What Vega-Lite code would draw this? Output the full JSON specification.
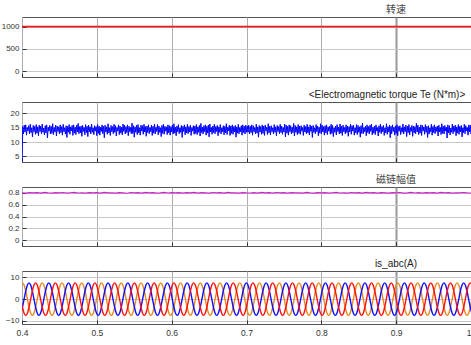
{
"$schema": "https://vega.github.io/schema/vega-lite/v6.json",
"background": "white",
"padding": {"left": 0, "top": 4, "right": 0, "bottom": 0},
"spacing": 11,
"config": {
"font": "Liberation Sans",
"view": {"stroke": "#555", "strokeWidth": 1},
"axis": {"labelFontSize": 8, "labelColor": "#333", "domain": false, "tickColor": "#333", "tickSize": -4, "labelPadding": 7, "gridColor": "#c8c8c8", "gridWidth": 1},
"axisY": {"minExtent": 21, "maxExtent": 21},
"title": {"fontSize": 10, "fontWeight": "normal", "color": "#222", "offset": 2, "frame": "group"}
},
"vconcat": [
{
"width": 450, "height": 60,
"title": {"text": "转速", "anchor": "middle", "dx": 149, "font": "Noto Sans CJK SC", "color": "#444"},
"data": {"values": [{"t": 0.4, "v": 1000}, {"t": 0.6, "v": 1000}, {"t": 0.8, "v": 1000}, {"t": 1.002, "v": 1000}]},
"mark": {"type": "line", "color": "#f01818", "strokeWidth": 1.7, "clip": true},
"encoding": {
"x": {"field": "t", "type": "quantitative", "scale": {"domain": [0.4, 1.0013], "nice": false, "zero": false}, "axis": {"title": null, "values": [0.4, 0.5, 0.6, 0.7, 0.8, 0.9, 1], "labels": false, "gridColor": {"condition": {"test": "abs(datum.value-0.9)<0.001", "value": "#999"}, "value": "#adadad"}, "gridWidth": {"condition": {"test": "abs(datum.value-0.9)<0.001", "value": 2}, "value": 1}}},
"y": {"field": "v", "type": "quantitative", "scale": {"domain": [-135, 1217], "nice": false}, "axis": {"title": null, "values": [0, 500, 1000], "format": "d"}}
}
},
{
"width": 450, "height": 60,
"title": {"text": "<Electromagnetic torque Te (N*m)>", "anchor": "middle", "dx": 140},
"data": {"values": [
{"t":0.4,"v":1},
{"t":0.401,"v":15.4},{"t":0.402,"v":12.8},{"t":0.403,"v":15.9},{"t":0.404,"v":13.5},{"t":0.405,"v":16.0},{"t":0.406,"v":12.4},{"t":0.407,"v":15.1},{"t":0.408,"v":13.9},{"t":0.409,"v":15.7},{"t":0.41,"v":12.9},
{"t":0.411,"v":16.2},{"t":0.412,"v":13.3},{"t":0.413,"v":15.0},{"t":0.414,"v":11.8},{"t":0.415,"v":15.8},{"t":0.416,"v":13.6},{"t":0.417,"v":15.5},{"t":0.418,"v":12.7},{"t":0.419,"v":16.1},{"t":0.42,"v":13.1},
{"t":0.421,"v":15.3},{"t":0.422,"v":12.2},{"t":0.423,"v":15.9},{"t":0.424,"v":13.7},{"t":0.425,"v":15.6},{"t":0.426,"v":12.9},{"t":0.427,"v":16.3},{"t":0.428,"v":13.4},{"t":0.429,"v":14.9},{"t":0.43,"v":12.5},
{"t":0.431,"v":15.7},{"t":0.432,"v":13.2},{"t":0.433,"v":16.0},{"t":0.434,"v":11.4},{"t":0.435,"v":15.2},{"t":0.436,"v":13.8},{"t":0.437,"v":15.8},{"t":0.438,"v":12.8},{"t":0.439,"v":15.5},{"t":0.44,"v":13.0},
{"t":0.441,"v":16.4},{"t":0.442,"v":12.6},{"t":0.443,"v":15.1},{"t":0.444,"v":13.5},{"t":0.445,"v":15.9},{"t":0.446,"v":12.1},{"t":0.447,"v":15.6},{"t":0.448,"v":13.7},{"t":0.449,"v":15.3},{"t":0.45,"v":12.9},
{"t":0.451,"v":16.0},{"t":0.452,"v":13.3},{"t":0.453,"v":15.4},{"t":0.454,"v":12.4},{"t":0.455,"v":16.2},{"t":0.456,"v":13.6},{"t":0.457,"v":15.0},{"t":0.458,"v":12.8},{"t":0.459,"v":15.7},{"t":0.46,"v":11.6},
{"t":0.461,"v":15.5},{"t":0.462,"v":13.4},{"t":0.463,"v":16.1},{"t":0.464,"v":12.7},{"t":0.465,"v":15.3},{"t":0.466,"v":13.9},{"t":0.467,"v":15.8},{"t":0.468,"v":12.3},{"t":0.469,"v":16.0},{"t":0.47,"v":13.1},
{"t":0.471,"v":15.2},{"t":0.472,"v":12.6},{"t":0.473,"v":15.9},{"t":0.474,"v":13.5},{"t":0.475,"v":16.5},{"t":0.476,"v":12.9},{"t":0.477,"v":15.4},{"t":0.478,"v":13.2},{"t":0.479,"v":15.6},{"t":0.48,"v":12.0},
{"t":0.481,"v":15.8},{"t":0.482,"v":13.7},{"t":0.483,"v":15.1},{"t":0.484,"v":12.5},{"t":0.485,"v":16.1},{"t":0.486,"v":13.3},{"t":0.487,"v":15.5},{"t":0.488,"v":11.9},{"t":0.489,"v":15.9},{"t":0.49,"v":13.6},
{"t":0.491,"v":15.3},{"t":0.492,"v":12.8},{"t":0.493,"v":16.3},{"t":0.494,"v":13.4},{"t":0.495,"v":15.0},{"t":0.496,"v":12.6},{"t":0.497,"v":15.7},{"t":0.498,"v":13.8},{"t":0.499,"v":15.4},{"t":0.5,"v":12.2},
{"t":0.501,"v":16.1},{"t":0.502,"v":13.0},{"t":0.503,"v":15.6},{"t":0.504,"v":12.4},{"t":0.505,"v":15.2},{"t":0.506,"v":13.7},{"t":0.507,"v":16.0},{"t":0.508,"v":12.9},{"t":0.509,"v":15.5},{"t":0.51,"v":11.5},
{"t":0.511,"v":15.9},{"t":0.512,"v":13.5},{"t":0.513,"v":15.3},{"t":0.514,"v":12.7},{"t":0.515,"v":16.4},{"t":0.516,"v":13.2},{"t":0.517,"v":15.0},{"t":0.518,"v":12.3},{"t":0.519,"v":15.8},{"t":0.52,"v":13.6},
{"t":0.521,"v":15.4},{"t":0.522,"v":12.9},{"t":0.523,"v":16.2},{"t":0.524,"v":13.4},{"t":0.525,"v":15.7},{"t":0.526,"v":12.1},{"t":0.527,"v":15.1},{"t":0.528,"v":13.8},{"t":0.529,"v":16.0},{"t":0.53,"v":12.6},
{"t":0.531,"v":15.6},{"t":0.532,"v":13.1},{"t":0.533,"v":15.2},{"t":0.534,"v":12.5},{"t":0.535,"v":16.3},{"t":0.536,"v":13.7},{"t":0.537,"v":15.9},{"t":0.538,"v":12.8},{"t":0.539,"v":15.4},{"t":0.54,"v":13.3},
{"t":0.541,"v":16.0},{"t":0.542,"v":12.2},{"t":0.543,"v":15.5},{"t":0.544,"v":13.6},{"t":0.545,"v":15.1},{"t":0.546,"v":12.9},{"t":0.547,"v":16.6},{"t":0.548,"v":13.0},{"t":0.549,"v":15.7},{"t":0.55,"v":11.7},
{"t":0.551,"v":15.3},{"t":0.552,"v":13.4},{"t":0.553,"v":15.8},{"t":0.554,"v":12.6},{"t":0.555,"v":16.1},{"t":0.556,"v":13.2},{"t":0.557,"v":15.0},{"t":0.558,"v":12.4},{"t":0.559,"v":15.9},{"t":0.56,"v":13.8},
{"t":0.561,"v":15.7},{"t":0.562,"v":12.7},{"t":0.563,"v":16.2},{"t":0.564,"v":13.5},{"t":0.565,"v":15.4},{"t":0.566,"v":12.0},{"t":0.567,"v":15.6},{"t":0.568,"v":13.3},{"t":0.569,"v":16.0},{"t":0.57,"v":12.9},
{"t":0.571,"v":15.1},{"t":0.572,"v":13.6},{"t":0.573,"v":15.9},{"t":0.574,"v":12.3},{"t":0.575,"v":15.5},{"t":0.576,"v":13.1},{"t":0.577,"v":16.3},{"t":0.578,"v":12.8},{"t":0.579,"v":15.2},{"t":0.58,"v":13.7},
{"t":0.581,"v":16.1},{"t":0.582,"v":12.5},{"t":0.583,"v":15.6},{"t":0.584,"v":13.4},{"t":0.585,"v":15.0},{"t":0.586,"v":11.9},{"t":0.587,"v":15.8},{"t":0.588,"v":13.0},{"t":0.589,"v":16.2},{"t":0.59,"v":12.7},
{"t":0.591,"v":15.5},{"t":0.592,"v":13.8},{"t":0.593,"v":15.3},{"t":0.594,"v":12.6},{"t":0.595,"v":16.0},{"t":0.596,"v":13.2},{"t":0.597,"v":15.7},{"t":0.598,"v":12.4},{"t":0.599,"v":15.4},{"t":0.6,"v":13.5},
{"t":0.601,"v":15.9},{"t":0.602,"v":12.8},{"t":0.603,"v":16.4},{"t":0.604,"v":13.1},{"t":0.605,"v":15.2},{"t":0.606,"v":12.2},{"t":0.607,"v":15.6},{"t":0.608,"v":13.6},{"t":0.609,"v":16.1},{"t":0.61,"v":12.9},
{"t":0.611,"v":15.0},{"t":0.612,"v":13.4},{"t":0.613,"v":15.8},{"t":0.614,"v":11.6},{"t":0.615,"v":15.5},{"t":0.616,"v":13.7},{"t":0.617,"v":16.0},{"t":0.618,"v":12.5},{"t":0.619,"v":15.3},{"t":0.62,"v":13.2},
{"t":0.621,"v":16.2},{"t":0.622,"v":12.9},{"t":0.623,"v":15.4},{"t":0.624,"v":13.5},{"t":0.625,"v":15.9},{"t":0.626,"v":12.3},{"t":0.627,"v":15.1},{"t":0.628,"v":13.8},{"t":0.629,"v":15.7},{"t":0.63,"v":12.7},
{"t":0.631,"v":15.6},{"t":0.632,"v":13.0},{"t":0.633,"v":16.1},{"t":0.634,"v":12.6},{"t":0.635,"v":15.3},{"t":0.636,"v":13.4},{"t":0.637,"v":15.8},{"t":0.638,"v":12.1},{"t":0.639,"v":16.5},{"t":0.64,"v":13.3},
{"t":0.641,"v":15.2},{"t":0.642,"v":12.8},{"t":0.643,"v":15.7},{"t":0.644,"v":13.6},{"t":0.645,"v":16.0},{"t":0.646,"v":12.4},{"t":0.647,"v":15.5},{"t":0.648,"v":13.1},{"t":0.649,"v":15.9},{"t":0.65,"v":11.8},
{"t":0.651,"v":16.3},{"t":0.652,"v":13.5},{"t":0.653,"v":15.1},{"t":0.654,"v":12.7},{"t":0.655,"v":15.6},{"t":0.656,"v":13.3},{"t":0.657,"v":16.2},{"t":0.658,"v":12.9},{"t":0.659,"v":15.4},{"t":0.66,"v":13.7},
{"t":0.661,"v":15.8},{"t":0.662,"v":12.2},{"t":0.663,"v":15.3},{"t":0.664,"v":13.4},{"t":0.665,"v":16.1},{"t":0.666,"v":12.8},{"t":0.667,"v":15.0},{"t":0.668,"v":13.6},{"t":0.669,"v":15.7},{"t":0.67,"v":12.5},
{"t":0.671,"v":15.5},{"t":0.672,"v":13.2},{"t":0.673,"v":16.4},{"t":0.674,"v":12.6},{"t":0.675,"v":15.2},{"t":0.676,"v":13.9},{"t":0.677,"v":15.9},{"t":0.678,"v":12.3},{"t":0.679,"v":15.6},{"t":0.68,"v":13.0},
{"t":0.681,"v":16.0},{"t":0.682,"v":12.7},{"t":0.683,"v":15.4},{"t":0.684,"v":13.5},{"t":0.685,"v":15.8},{"t":0.686,"v":11.7},{"t":0.687,"v":15.3},{"t":0.688,"v":13.1},{"t":0.689,"v":16.2},{"t":0.69,"v":12.9},
{"t":0.691,"v":15.1},{"t":0.692,"v":13.6},{"t":0.693,"v":15.7},{"t":0.694,"v":12.4},{"t":0.695,"v":16.0},{"t":0.696,"v":13.3},{"t":0.697,"v":15.5},{"t":0.698,"v":12.8},{"t":0.699,"v":15.9},{"t":0.7,"v":13.4},
{"t":0.701,"v":15.6},
{"t":0.702,"v":13.4},{"t":0.703,"v":15.9},{"t":0.704,"v":12.8},{"t":0.705,"v":15.5},{"t":0.706,"v":13.3},{"t":0.707,"v":16.0},{"t":0.708,"v":12.4},{"t":0.709,"v":15.7},{"t":0.71,"v":13.6},{"t":0.711,"v":15.1},
{"t":0.712,"v":12.9},{"t":0.713,"v":16.2},{"t":0.714,"v":13.1},{"t":0.715,"v":15.3},{"t":0.716,"v":11.7},{"t":0.717,"v":15.8},{"t":0.718,"v":13.5},{"t":0.719,"v":15.4},{"t":0.72,"v":12.7},{"t":0.721,"v":16.0},
{"t":0.722,"v":13.0},{"t":0.723,"v":15.6},{"t":0.724,"v":12.3},{"t":0.725,"v":15.9},{"t":0.726,"v":13.9},{"t":0.727,"v":15.2},{"t":0.728,"v":12.6},{"t":0.729,"v":16.4},{"t":0.73,"v":13.2},{"t":0.731,"v":15.5},
{"t":0.732,"v":12.5},{"t":0.733,"v":15.7},{"t":0.734,"v":13.6},{"t":0.735,"v":15.0},{"t":0.736,"v":12.8},{"t":0.737,"v":16.1},{"t":0.738,"v":13.4},{"t":0.739,"v":15.3},{"t":0.74,"v":12.2},{"t":0.741,"v":15.8},
{"t":0.742,"v":13.7},{"t":0.743,"v":15.4},{"t":0.744,"v":12.9},{"t":0.745,"v":16.2},{"t":0.746,"v":13.3},{"t":0.747,"v":15.6},{"t":0.748,"v":12.7},{"t":0.749,"v":15.1},{"t":0.75,"v":13.5},{"t":0.751,"v":16.3},
{"t":0.752,"v":11.8},{"t":0.753,"v":15.9},{"t":0.754,"v":13.1},{"t":0.755,"v":15.5},{"t":0.756,"v":12.4},{"t":0.757,"v":16.0},{"t":0.758,"v":13.6},{"t":0.759,"v":15.7},{"t":0.76,"v":12.8},{"t":0.761,"v":15.2},
{"t":0.762,"v":13.3},{"t":0.763,"v":16.5},{"t":0.764,"v":12.1},{"t":0.765,"v":15.8},{"t":0.766,"v":13.4},{"t":0.767,"v":15.3},{"t":0.768,"v":12.6},{"t":0.769,"v":16.1},{"t":0.77,"v":13.0},{"t":0.771,"v":15.6},
{"t":0.772,"v":12.7},{"t":0.773,"v":15.7},{"t":0.774,"v":13.8},{"t":0.775,"v":15.1},{"t":0.776,"v":12.3},{"t":0.777,"v":15.9},{"t":0.778,"v":13.5},{"t":0.779,"v":15.4},{"t":0.78,"v":12.9},{"t":0.781,"v":16.2},
{"t":0.782,"v":13.2},{"t":0.783,"v":15.3},{"t":0.784,"v":12.5},{"t":0.785,"v":16.0},{"t":0.786,"v":13.7},{"t":0.787,"v":15.5},{"t":0.788,"v":11.6},{"t":0.789,"v":15.8},{"t":0.79,"v":13.4},{"t":0.791,"v":15.0},
{"t":0.792,"v":12.9},{"t":0.793,"v":16.1},{"t":0.794,"v":13.6},{"t":0.795,"v":15.6},{"t":0.796,"v":12.2},{"t":0.797,"v":15.2},{"t":0.798,"v":13.1},{"t":0.799,"v":16.4},{"t":0.8,"v":12.8},{"t":0.801,"v":15.9},
{"t":0.802,"v":13.5},{"t":0.803,"v":15.4},{"t":0.804,"v":12.4},{"t":0.805,"v":15.7},{"t":0.806,"v":13.2},{"t":0.807,"v":16.0},{"t":0.808,"v":12.6},{"t":0.809,"v":15.3},{"t":0.81,"v":13.8},{"t":0.811,"v":15.5},
{"t":0.812,"v":12.7},{"t":0.813,"v":16.2},{"t":0.814,"v":13.0},{"t":0.815,"v":15.8},{"t":0.816,"v":11.9},{"t":0.817,"v":15.0},{"t":0.818,"v":13.4},{"t":0.819,"v":15.6},{"t":0.82,"v":12.5},{"t":0.821,"v":16.1},
{"t":0.822,"v":13.7},{"t":0.823,"v":15.2},{"t":0.824,"v":12.8},{"t":0.825,"v":16.3},{"t":0.826,"v":13.1},{"t":0.827,"v":15.5},{"t":0.828,"v":12.3},{"t":0.829,"v":15.9},{"t":0.83,"v":13.6},{"t":0.831,"v":15.1},
{"t":0.832,"v":12.9},{"t":0.833,"v":16.0},{"t":0.834,"v":13.3},{"t":0.835,"v":15.6},{"t":0.836,"v":12.0},{"t":0.837,"v":15.4},{"t":0.838,"v":13.5},{"t":0.839,"v":16.2},{"t":0.84,"v":12.7},{"t":0.841,"v":15.7},
{"t":0.842,"v":13.8},{"t":0.843,"v":15.9},{"t":0.844,"v":12.4},{"t":0.845,"v":15.0},{"t":0.846,"v":13.2},{"t":0.847,"v":16.1},{"t":0.848,"v":12.6},{"t":0.849,"v":15.8},{"t":0.85,"v":13.4},{"t":0.851,"v":15.3},
{"t":0.852,"v":11.7},{"t":0.853,"v":15.7},{"t":0.854,"v":13.0},{"t":0.855,"v":16.6},{"t":0.856,"v":12.9},{"t":0.857,"v":15.1},{"t":0.858,"v":13.6},{"t":0.859,"v":15.5},{"t":0.86,"v":12.2},{"t":0.861,"v":16.0},
{"t":0.862,"v":13.3},{"t":0.863,"v":15.4},{"t":0.864,"v":12.8},{"t":0.865,"v":15.9},{"t":0.866,"v":13.7},{"t":0.867,"v":16.3},{"t":0.868,"v":12.5},{"t":0.869,"v":15.2},{"t":0.87,"v":13.1},{"t":0.871,"v":15.6},
{"t":0.872,"v":12.6},{"t":0.873,"v":16.0},{"t":0.874,"v":13.8},{"t":0.875,"v":15.1},{"t":0.876,"v":12.1},{"t":0.877,"v":15.7},{"t":0.878,"v":13.4},{"t":0.879,"v":16.2},{"t":0.88,"v":12.9},{"t":0.881,"v":15.4},
{"t":0.882,"v":13.6},{"t":0.883,"v":15.8},{"t":0.884,"v":12.3},{"t":0.885,"v":15.0},{"t":0.886,"v":13.2},{"t":0.887,"v":16.4},{"t":0.888,"v":12.7},{"t":0.889,"v":15.3},{"t":0.89,"v":13.5},{"t":0.891,"v":15.9},
{"t":0.892,"v":11.5},{"t":0.893,"v":15.5},{"t":0.894,"v":12.9},{"t":0.895,"v":16.0},{"t":0.896,"v":13.7},{"t":0.897,"v":15.2},{"t":0.898,"v":12.4},{"t":0.899,"v":15.6},{"t":0.9,"v":13.0},{"t":0.901,"v":16.1},
{"t":0.902,"v":12.2},{"t":0.903,"v":15.4},{"t":0.904,"v":13.8},{"t":0.905,"v":15.7},{"t":0.906,"v":12.6},{"t":0.907,"v":15.0},{"t":0.908,"v":13.4},{"t":0.909,"v":16.3},{"t":0.91,"v":12.8},{"t":0.911,"v":15.3},
{"t":0.912,"v":13.6},{"t":0.913,"v":15.9},{"t":0.914,"v":11.9},{"t":0.915,"v":15.5},{"t":0.916,"v":13.3},{"t":0.917,"v":16.1},{"t":0.918,"v":12.5},{"t":0.919,"v":15.1},{"t":0.92,"v":13.7},{"t":0.921,"v":15.8},
{"t":0.922,"v":12.0},{"t":0.923,"v":15.6},{"t":0.924,"v":13.2},{"t":0.925,"v":15.4},{"t":0.926,"v":12.9},{"t":0.927,"v":16.5},{"t":0.928,"v":13.5},{"t":0.929,"v":15.9},{"t":0.93,"v":12.6},{"t":0.931,"v":15.2},
{"t":0.932,"v":13.1},{"t":0.933,"v":16.0},{"t":0.934,"v":12.3},{"t":0.935,"v":15.8},{"t":0.936,"v":13.9},{"t":0.937,"v":15.3},{"t":0.938,"v":12.7},{"t":0.939,"v":16.1},{"t":0.94,"v":13.4},{"t":0.941,"v":15.5},
{"t":0.942,"v":11.6},{"t":0.943,"v":15.7},{"t":0.944,"v":12.8},{"t":0.945,"v":15.0},{"t":0.946,"v":13.6},{"t":0.947,"v":16.2},{"t":0.948,"v":12.4},{"t":0.949,"v":15.4},{"t":0.95,"v":13.3},{"t":0.951,"v":16.0},
{"t":0.952,"v":12.9},{"t":0.953,"v":15.3},{"t":0.954,"v":13.7},{"t":0.955,"v":15.6},{"t":0.956,"v":12.1},{"t":0.957,"v":15.9},{"t":0.958,"v":13.5},{"t":0.959,"v":15.1},{"t":0.96,"v":12.6},{"t":0.961,"v":16.4},
{"t":0.962,"v":13.0},{"t":0.963,"v":15.5},{"t":0.964,"v":12.8},{"t":0.965,"v":15.8},{"t":0.966,"v":13.8},{"t":0.967,"v":15.2},{"t":0.968,"v":11.4},{"t":0.969,"v":16.0},{"t":0.97,"v":13.2},{"t":0.971,"v":15.7},
{"t":0.972,"v":12.5},{"t":0.973,"v":14.9},{"t":0.974,"v":13.4},{"t":0.975,"v":16.3},{"t":0.976,"v":12.9},{"t":0.977,"v":15.6},{"t":0.978,"v":13.7},{"t":0.979,"v":15.9},{"t":0.98,"v":12.2},{"t":0.981,"v":15.3},
{"t":0.982,"v":13.1},{"t":0.983,"v":16.1},{"t":0.984,"v":12.7},{"t":0.985,"v":15.5},{"t":0.986,"v":13.6},{"t":0.987,"v":15.8},{"t":0.988,"v":11.8},{"t":0.989,"v":15.0},{"t":0.99,"v":13.3},{"t":0.991,"v":16.2},
{"t":0.992,"v":12.9},{"t":0.993,"v":15.7},{"t":0.994,"v":13.9},{"t":0.995,"v":15.1},{"t":0.996,"v":12.4},{"t":0.997,"v":16.0},{"t":0.998,"v":13.5},{"t":0.999,"v":15.9},{"t":1.0,"v":12.8},
{"t":1.001,"v":15.4},{"t":1.002,"v":13.0}
]},
"mark": {"type": "line", "color": "#0000ff", "strokeWidth": 1, "clip": true},
"encoding": {
"x": {"field": "t", "type": "quantitative", "scale": {"domain": [0.4, 1.0013], "nice": false, "zero": false}, "axis": {"title": null, "values": [0.4, 0.5, 0.6, 0.7, 0.8, 0.9, 1], "labels": false, "gridColor": {"condition": {"test": "abs(datum.value-0.9)<0.001", "value": "#999"}, "value": "#adadad"}, "gridWidth": {"condition": {"test": "abs(datum.value-0.9)<0.001", "value": 2}, "value": 1}}},
"y": {"field": "v", "type": "quantitative", "scale": {"domain": [3, 24], "nice": false, "zero": false}, "axis": {"title": null, "values": [5, 10, 15, 20], "format": "d"}}
}
},
{
"width": 450, "height": 59,
"title": {"text": "磁链幅值", "anchor": "middle", "dx": 149, "font": "Noto Sans CJK SC", "color": "#444"},
"data": {"values": [
{"t":0.4,"v":0.802},{"t":0.405,"v":0.797},{"t":0.41,"v":0.806},{"t":0.415,"v":0.799},{"t":0.42,"v":0.804},{"t":0.425,"v":0.795},{"t":0.43,"v":0.808},{"t":0.435,"v":0.8},{"t":0.44,"v":0.796},{"t":0.445,"v":0.805},
{"t":0.45,"v":0.799},{"t":0.455,"v":0.807},{"t":0.46,"v":0.797},{"t":0.465,"v":0.803},{"t":0.47,"v":0.81},{"t":0.475,"v":0.798},{"t":0.48,"v":0.801},{"t":0.485,"v":0.795},{"t":0.49,"v":0.806},{"t":0.495,"v":0.8},
{"t":0.5,"v":0.804},{"t":0.505,"v":0.796},{"t":0.51,"v":0.809},{"t":0.515,"v":0.799},{"t":0.52,"v":0.802},{"t":0.525,"v":0.797},{"t":0.53,"v":0.805},{"t":0.535,"v":0.801},{"t":0.54,"v":0.794},{"t":0.545,"v":0.807},
{"t":0.55,"v":0.8},{"t":0.555,"v":0.803},{"t":0.56,"v":0.797},{"t":0.565,"v":0.808},{"t":0.57,"v":0.799},{"t":0.575,"v":0.805},{"t":0.58,"v":0.796},{"t":0.585,"v":0.802},{"t":0.59,"v":0.81},{"t":0.595,"v":0.798},
{"t":0.6,"v":0.804},{"t":0.605,"v":0.799},{"t":0.61,"v":0.806},{"t":0.615,"v":0.795},{"t":0.62,"v":0.803},{"t":0.625,"v":0.8},{"t":0.63,"v":0.808},{"t":0.635,"v":0.797},{"t":0.64,"v":0.805},{"t":0.645,"v":0.801},
{"t":0.65,"v":0.796},{"t":0.655,"v":0.807},{"t":0.66,"v":0.799},{"t":0.665,"v":0.804},{"t":0.67,"v":0.797},{"t":0.675,"v":0.809},{"t":0.68,"v":0.8},{"t":0.685,"v":0.802},{"t":0.69,"v":0.795},{"t":0.695,"v":0.806},
{"t":0.7,"v":0.801},{"t":0.705,"v":0.798},{"t":0.71,"v":0.805},{"t":0.715,"v":0.797},{"t":0.72,"v":0.81},{"t":0.725,"v":0.799},{"t":0.73,"v":0.803},{"t":0.735,"v":0.796},{"t":0.74,"v":0.807},{"t":0.745,"v":0.8},
{"t":0.75,"v":0.804},{"t":0.755,"v":0.797},{"t":0.76,"v":0.806},{"t":0.765,"v":0.799},{"t":0.77,"v":0.802},{"t":0.775,"v":0.795},{"t":0.78,"v":0.808},{"t":0.785,"v":0.801},{"t":0.79,"v":0.797},{"t":0.795,"v":0.805},
{"t":0.8,"v":0.799},{"t":0.805,"v":0.806},{"t":0.81,"v":0.796},{"t":0.815,"v":0.803},{"t":0.82,"v":0.809},{"t":0.825,"v":0.798},{"t":0.83,"v":0.802},{"t":0.835,"v":0.795},{"t":0.84,"v":0.807},{"t":0.845,"v":0.8},
{"t":0.85,"v":0.805},{"t":0.855,"v":0.797},{"t":0.86,"v":0.808},{"t":0.865,"v":0.799},{"t":0.87,"v":0.803},{"t":0.875,"v":0.796},{"t":0.88,"v":0.806},{"t":0.885,"v":0.801},{"t":0.89,"v":0.795},{"t":0.895,"v":0.804},
{"t":0.9,"v":0.8},{"t":0.905,"v":0.807},{"t":0.91,"v":0.797},{"t":0.915,"v":0.802},{"t":0.92,"v":0.809},{"t":0.925,"v":0.798},{"t":0.93,"v":0.804},{"t":0.935,"v":0.796},{"t":0.94,"v":0.806},{"t":0.945,"v":0.799},
{"t":0.95,"v":0.803},{"t":0.955,"v":0.797},{"t":0.96,"v":0.808},{"t":0.965,"v":0.8},{"t":0.97,"v":0.805},{"t":0.975,"v":0.796},{"t":0.98,"v":0.802},{"t":0.985,"v":0.799},{"t":0.99,"v":0.807},{"t":0.995,"v":0.801},
{"t":1.0,"v":0.798},{"t":1.005,"v":0.804}
]},
"mark": {"type": "line", "color": "#cc22cc", "strokeWidth": 1.2, "clip": true},
"encoding": {
"x": {"field": "t", "type": "quantitative", "scale": {"domain": [0.4, 1.0013], "nice": false, "zero": false}, "axis": {"title": null, "values": [0.4, 0.5, 0.6, 0.7, 0.8, 0.9, 1], "labels": false, "gridColor": {"condition": {"test": "abs(datum.value-0.9)<0.001", "value": "#999"}, "value": "#adadad"}, "gridWidth": {"condition": {"test": "abs(datum.value-0.9)<0.001", "value": 2}, "value": 1}}},
"y": {"field": "v", "type": "quantitative", "scale": {"domain": [-0.1, 0.9], "nice": false, "zero": false}, "axis": {"title": null, "values": [0, 0.2, 0.4, 0.6, 0.8], "format": "~g"}}
}
},
{
"width": 450, "height": 53,
"title": {"text": "is_abc(A)", "anchor": "middle", "dx": 149},
"data": {"values": [
{"t":0.3984,"a":-6.5,"b":0,"c":6.5},{"t":0.4006,"a":-3.75,"b":-3.75,"c":7.5},{"t":0.4028,"a":0,"b":-6.5,"c":6.5},{"t":0.405,"a":3.75,"b":-7.5,"c":3.75},{"t":0.4072,"a":6.5,"b":-6.5,"c":0},{"t":0.4094,"a":7.5,"b":-3.75,"c":-3.75},{"t":0.4116,"a":6.5,"b":0,"c":-6.5},{"t":0.4138,"a":3.75,"b":3.75,"c":-7.5},{"t":0.416,"a":0,"b":6.5,"c":-6.5},{"t":0.4182,"a":-3.75,"b":7.5,"c":-3.75},{"t":0.4204,"a":-6.5,"b":6.5,"c":0},{"t":0.4226,"a":-7.5,"b":3.75,"c":3.75},
{"t":0.4248,"a":-6.5,"b":0,"c":6.5},{"t":0.427,"a":-3.75,"b":-3.75,"c":7.5},{"t":0.4292,"a":0,"b":-6.5,"c":6.5},{"t":0.4314,"a":3.75,"b":-7.5,"c":3.75},{"t":0.4336,"a":6.5,"b":-6.5,"c":0},{"t":0.4358,"a":7.5,"b":-3.75,"c":-3.75},{"t":0.438,"a":6.5,"b":0,"c":-6.5},{"t":0.4402,"a":3.75,"b":3.75,"c":-7.5},{"t":0.4424,"a":0,"b":6.5,"c":-6.5},{"t":0.4446,"a":-3.75,"b":7.5,"c":-3.75},{"t":0.4468,"a":-6.5,"b":6.5,"c":0},{"t":0.449,"a":-7.5,"b":3.75,"c":3.75},
{"t":0.4512,"a":-6.5,"b":0,"c":6.5},{"t":0.4534,"a":-3.75,"b":-3.75,"c":7.5},{"t":0.4556,"a":0,"b":-6.5,"c":6.5},{"t":0.4578,"a":3.75,"b":-7.5,"c":3.75},{"t":0.46,"a":6.5,"b":-6.5,"c":0},{"t":0.4622,"a":7.5,"b":-3.75,"c":-3.75},{"t":0.4644,"a":6.5,"b":0,"c":-6.5},{"t":0.4666,"a":3.75,"b":3.75,"c":-7.5},{"t":0.4688,"a":0,"b":6.5,"c":-6.5},{"t":0.471,"a":-3.75,"b":7.5,"c":-3.75},{"t":0.4732,"a":-6.5,"b":6.5,"c":0},{"t":0.4754,"a":-7.5,"b":3.75,"c":3.75},
{"t":0.4776,"a":-6.5,"b":0,"c":6.5},{"t":0.4798,"a":-3.75,"b":-3.75,"c":7.5},{"t":0.482,"a":0,"b":-6.5,"c":6.5},{"t":0.4842,"a":3.75,"b":-7.5,"c":3.75},{"t":0.4864,"a":6.5,"b":-6.5,"c":0},{"t":0.4886,"a":7.5,"b":-3.75,"c":-3.75},{"t":0.4908,"a":6.5,"b":0,"c":-6.5},{"t":0.493,"a":3.75,"b":3.75,"c":-7.5},{"t":0.4952,"a":0,"b":6.5,"c":-6.5},{"t":0.4974,"a":-3.75,"b":7.5,"c":-3.75},{"t":0.4996,"a":-6.5,"b":6.5,"c":0},{"t":0.5018,"a":-7.5,"b":3.75,"c":3.75},
{"t":0.504,"a":-6.5,"b":0,"c":6.5},{"t":0.5062,"a":-3.75,"b":-3.75,"c":7.5},{"t":0.5084,"a":0,"b":-6.5,"c":6.5},{"t":0.5106,"a":3.75,"b":-7.5,"c":3.75},{"t":0.5128,"a":6.5,"b":-6.5,"c":0},{"t":0.515,"a":7.5,"b":-3.75,"c":-3.75},{"t":0.5172,"a":6.5,"b":0,"c":-6.5},{"t":0.5194,"a":3.75,"b":3.75,"c":-7.5},{"t":0.5216,"a":0,"b":6.5,"c":-6.5},{"t":0.5238,"a":-3.75,"b":7.5,"c":-3.75},{"t":0.526,"a":-6.5,"b":6.5,"c":0},{"t":0.5282,"a":-7.5,"b":3.75,"c":3.75},
{"t":0.5304,"a":-6.5,"b":0,"c":6.5},{"t":0.5326,"a":-3.75,"b":-3.75,"c":7.5},{"t":0.5348,"a":0,"b":-6.5,"c":6.5},{"t":0.537,"a":3.75,"b":-7.5,"c":3.75},{"t":0.5392,"a":6.5,"b":-6.5,"c":0},{"t":0.5414,"a":7.5,"b":-3.75,"c":-3.75},{"t":0.5436,"a":6.5,"b":0,"c":-6.5},{"t":0.5458,"a":3.75,"b":3.75,"c":-7.5},{"t":0.548,"a":0,"b":6.5,"c":-6.5},{"t":0.5502,"a":-3.75,"b":7.5,"c":-3.75},{"t":0.5524,"a":-6.5,"b":6.5,"c":0},{"t":0.5546,"a":-7.5,"b":3.75,"c":3.75},
{"t":0.5568,"a":-6.5,"b":0,"c":6.5},{"t":0.559,"a":-3.75,"b":-3.75,"c":7.5},{"t":0.5612,"a":0,"b":-6.5,"c":6.5},{"t":0.5634,"a":3.75,"b":-7.5,"c":3.75},{"t":0.5656,"a":6.5,"b":-6.5,"c":0},{"t":0.5678,"a":7.5,"b":-3.75,"c":-3.75},{"t":0.57,"a":6.5,"b":0,"c":-6.5},{"t":0.5722,"a":3.75,"b":3.75,"c":-7.5},{"t":0.5744,"a":0,"b":6.5,"c":-6.5},{"t":0.5766,"a":-3.75,"b":7.5,"c":-3.75},{"t":0.5788,"a":-6.5,"b":6.5,"c":0},{"t":0.581,"a":-7.5,"b":3.75,"c":3.75},
{"t":0.5832,"a":-6.5,"b":0,"c":6.5},{"t":0.5854,"a":-3.75,"b":-3.75,"c":7.5},{"t":0.5876,"a":0,"b":-6.5,"c":6.5},{"t":0.5898,"a":3.75,"b":-7.5,"c":3.75},{"t":0.592,"a":6.5,"b":-6.5,"c":0},{"t":0.5942,"a":7.5,"b":-3.75,"c":-3.75},{"t":0.5964,"a":6.5,"b":0,"c":-6.5},{"t":0.5986,"a":3.75,"b":3.75,"c":-7.5},{"t":0.6008,"a":0,"b":6.5,"c":-6.5},{"t":0.603,"a":-3.75,"b":7.5,"c":-3.75},{"t":0.6052,"a":-6.5,"b":6.5,"c":0},{"t":0.6074,"a":-7.5,"b":3.75,"c":3.75},
{"t":0.6096,"a":-6.5,"b":0,"c":6.5},{"t":0.6118,"a":-3.75,"b":-3.75,"c":7.5},{"t":0.614,"a":0,"b":-6.5,"c":6.5},{"t":0.6162,"a":3.75,"b":-7.5,"c":3.75},{"t":0.6184,"a":6.5,"b":-6.5,"c":0},{"t":0.6206,"a":7.5,"b":-3.75,"c":-3.75},{"t":0.6228,"a":6.5,"b":0,"c":-6.5},{"t":0.625,"a":3.75,"b":3.75,"c":-7.5},{"t":0.6272,"a":0,"b":6.5,"c":-6.5},{"t":0.6294,"a":-3.75,"b":7.5,"c":-3.75},{"t":0.6316,"a":-6.5,"b":6.5,"c":0},{"t":0.6338,"a":-7.5,"b":3.75,"c":3.75},
{"t":0.636,"a":-6.5,"b":0,"c":6.5},{"t":0.6382,"a":-3.75,"b":-3.75,"c":7.5},{"t":0.6404,"a":0,"b":-6.5,"c":6.5},{"t":0.6426,"a":3.75,"b":-7.5,"c":3.75},{"t":0.6448,"a":6.5,"b":-6.5,"c":0},{"t":0.647,"a":7.5,"b":-3.75,"c":-3.75},{"t":0.6492,"a":6.5,"b":0,"c":-6.5},{"t":0.6514,"a":3.75,"b":3.75,"c":-7.5},{"t":0.6536,"a":0,"b":6.5,"c":-6.5},{"t":0.6558,"a":-3.75,"b":7.5,"c":-3.75},{"t":0.658,"a":-6.5,"b":6.5,"c":0},{"t":0.6602,"a":-7.5,"b":3.75,"c":3.75},
{"t":0.6624,"a":-6.5,"b":0,"c":6.5},{"t":0.6646,"a":-3.75,"b":-3.75,"c":7.5},{"t":0.6668,"a":0,"b":-6.5,"c":6.5},{"t":0.669,"a":3.75,"b":-7.5,"c":3.75},{"t":0.6712,"a":6.5,"b":-6.5,"c":0},{"t":0.6734,"a":7.5,"b":-3.75,"c":-3.75},{"t":0.6756,"a":6.5,"b":0,"c":-6.5},{"t":0.6778,"a":3.75,"b":3.75,"c":-7.5},{"t":0.68,"a":0,"b":6.5,"c":-6.5},{"t":0.6822,"a":-3.75,"b":7.5,"c":-3.75},{"t":0.6844,"a":-6.5,"b":6.5,"c":0},{"t":0.6866,"a":-7.5,"b":3.75,"c":3.75},
{"t":0.6888,"a":-6.5,"b":0,"c":6.5},{"t":0.691,"a":-3.75,"b":-3.75,"c":7.5},{"t":0.6932,"a":0,"b":-6.5,"c":6.5},{"t":0.6954,"a":3.75,"b":-7.5,"c":3.75},{"t":0.6976,"a":6.5,"b":-6.5,"c":0},{"t":0.6998,"a":7.5,"b":-3.75,"c":-3.75},{"t":0.702,"a":6.5,"b":0,"c":-6.5},{"t":0.7042,"a":3.75,"b":3.75,"c":-7.5},{"t":0.7064,"a":0,"b":6.5,"c":-6.5},{"t":0.7086,"a":-3.75,"b":7.5,"c":-3.75},{"t":0.7108,"a":-6.5,"b":6.5,"c":0},{"t":0.713,"a":-7.5,"b":3.75,"c":3.75},
{"t":0.7152,"a":-6.5,"b":0,"c":6.5},{"t":0.7174,"a":-3.75,"b":-3.75,"c":7.5},{"t":0.7196,"a":0,"b":-6.5,"c":6.5},{"t":0.7218,"a":3.75,"b":-7.5,"c":3.75},{"t":0.724,"a":6.5,"b":-6.5,"c":0},{"t":0.7262,"a":7.5,"b":-3.75,"c":-3.75},{"t":0.7284,"a":6.5,"b":0,"c":-6.5},{"t":0.7306,"a":3.75,"b":3.75,"c":-7.5},{"t":0.7328,"a":0,"b":6.5,"c":-6.5},{"t":0.735,"a":-3.75,"b":7.5,"c":-3.75},{"t":0.7372,"a":-6.5,"b":6.5,"c":0},{"t":0.7394,"a":-7.5,"b":3.75,"c":3.75},
{"t":0.7416,"a":-6.5,"b":0,"c":6.5},{"t":0.7438,"a":-3.75,"b":-3.75,"c":7.5},{"t":0.746,"a":0,"b":-6.5,"c":6.5},{"t":0.7482,"a":3.75,"b":-7.5,"c":3.75},{"t":0.7504,"a":6.5,"b":-6.5,"c":0},{"t":0.7526,"a":7.5,"b":-3.75,"c":-3.75},{"t":0.7548,"a":6.5,"b":0,"c":-6.5},{"t":0.757,"a":3.75,"b":3.75,"c":-7.5},{"t":0.7592,"a":0,"b":6.5,"c":-6.5},{"t":0.7614,"a":-3.75,"b":7.5,"c":-3.75},{"t":0.7636,"a":-6.5,"b":6.5,"c":0},{"t":0.7658,"a":-7.5,"b":3.75,"c":3.75},
{"t":0.768,"a":-6.5,"b":0,"c":6.5},{"t":0.7702,"a":-3.75,"b":-3.75,"c":7.5},{"t":0.7724,"a":0,"b":-6.5,"c":6.5},{"t":0.7746,"a":3.75,"b":-7.5,"c":3.75},{"t":0.7768,"a":6.5,"b":-6.5,"c":0},{"t":0.779,"a":7.5,"b":-3.75,"c":-3.75},{"t":0.7812,"a":6.5,"b":0,"c":-6.5},{"t":0.7834,"a":3.75,"b":3.75,"c":-7.5},{"t":0.7856,"a":0,"b":6.5,"c":-6.5},{"t":0.7878,"a":-3.75,"b":7.5,"c":-3.75},{"t":0.79,"a":-6.5,"b":6.5,"c":0},{"t":0.7922,"a":-7.5,"b":3.75,"c":3.75},
{"t":0.7944,"a":-6.5,"b":0,"c":6.5},{"t":0.7966,"a":-3.75,"b":-3.75,"c":7.5},{"t":0.7988,"a":0,"b":-6.5,"c":6.5},{"t":0.801,"a":3.75,"b":-7.5,"c":3.75},{"t":0.8032,"a":6.5,"b":-6.5,"c":0},{"t":0.8054,"a":7.5,"b":-3.75,"c":-3.75},{"t":0.8076,"a":6.5,"b":0,"c":-6.5},{"t":0.8098,"a":3.75,"b":3.75,"c":-7.5},{"t":0.812,"a":0,"b":6.5,"c":-6.5},{"t":0.8142,"a":-3.75,"b":7.5,"c":-3.75},{"t":0.8164,"a":-6.5,"b":6.5,"c":0},{"t":0.8186,"a":-7.5,"b":3.75,"c":3.75},
{"t":0.8208,"a":-6.5,"b":0,"c":6.5},{"t":0.823,"a":-3.75,"b":-3.75,"c":7.5},{"t":0.8252,"a":0,"b":-6.5,"c":6.5},{"t":0.8274,"a":3.75,"b":-7.5,"c":3.75},{"t":0.8296,"a":6.5,"b":-6.5,"c":0},{"t":0.8318,"a":7.5,"b":-3.75,"c":-3.75},{"t":0.834,"a":6.5,"b":0,"c":-6.5},{"t":0.8362,"a":3.75,"b":3.75,"c":-7.5},{"t":0.8384,"a":0,"b":6.5,"c":-6.5},{"t":0.8406,"a":-3.75,"b":7.5,"c":-3.75},{"t":0.8428,"a":-6.5,"b":6.5,"c":0},{"t":0.845,"a":-7.5,"b":3.75,"c":3.75},
{"t":0.8472,"a":-6.5,"b":0,"c":6.5},{"t":0.8494,"a":-3.75,"b":-3.75,"c":7.5},{"t":0.8516,"a":0,"b":-6.5,"c":6.5},{"t":0.8538,"a":3.75,"b":-7.5,"c":3.75},{"t":0.856,"a":6.5,"b":-6.5,"c":0},{"t":0.8582,"a":7.5,"b":-3.75,"c":-3.75},{"t":0.8604,"a":6.5,"b":0,"c":-6.5},{"t":0.8626,"a":3.75,"b":3.75,"c":-7.5},{"t":0.8648,"a":0,"b":6.5,"c":-6.5},{"t":0.867,"a":-3.75,"b":7.5,"c":-3.75},{"t":0.8692,"a":-6.5,"b":6.5,"c":0},{"t":0.8714,"a":-7.5,"b":3.75,"c":3.75},
{"t":0.8736,"a":-6.5,"b":0,"c":6.5},{"t":0.8758,"a":-3.75,"b":-3.75,"c":7.5},{"t":0.878,"a":0,"b":-6.5,"c":6.5},{"t":0.8802,"a":3.75,"b":-7.5,"c":3.75},{"t":0.8824,"a":6.5,"b":-6.5,"c":0},{"t":0.8846,"a":7.5,"b":-3.75,"c":-3.75},{"t":0.8868,"a":6.5,"b":0,"c":-6.5},{"t":0.889,"a":3.75,"b":3.75,"c":-7.5},{"t":0.8912,"a":0,"b":6.5,"c":-6.5},{"t":0.8934,"a":-3.75,"b":7.5,"c":-3.75},{"t":0.8956,"a":-6.5,"b":6.5,"c":0},{"t":0.8978,"a":-7.5,"b":3.75,"c":3.75},
{"t":0.9,"a":-6.5,"b":0,"c":6.5},{"t":0.9022,"a":-3.75,"b":-3.75,"c":7.5},{"t":0.9044,"a":0,"b":-6.5,"c":6.5},{"t":0.9066,"a":3.75,"b":-7.5,"c":3.75},{"t":0.9088,"a":6.5,"b":-6.5,"c":0},{"t":0.911,"a":7.5,"b":-3.75,"c":-3.75},{"t":0.9132,"a":6.5,"b":0,"c":-6.5},{"t":0.9154,"a":3.75,"b":3.75,"c":-7.5},{"t":0.9176,"a":0,"b":6.5,"c":-6.5},{"t":0.9198,"a":-3.75,"b":7.5,"c":-3.75},{"t":0.922,"a":-6.5,"b":6.5,"c":0},{"t":0.9242,"a":-7.5,"b":3.75,"c":3.75},
{"t":0.9264,"a":-6.5,"b":0,"c":6.5},{"t":0.9286,"a":-3.75,"b":-3.75,"c":7.5},{"t":0.9308,"a":0,"b":-6.5,"c":6.5},{"t":0.933,"a":3.75,"b":-7.5,"c":3.75},{"t":0.9352,"a":6.5,"b":-6.5,"c":0},{"t":0.9374,"a":7.5,"b":-3.75,"c":-3.75},{"t":0.9396,"a":6.5,"b":0,"c":-6.5},{"t":0.9418,"a":3.75,"b":3.75,"c":-7.5},{"t":0.944,"a":0,"b":6.5,"c":-6.5},{"t":0.9462,"a":-3.75,"b":7.5,"c":-3.75},{"t":0.9484,"a":-6.5,"b":6.5,"c":0},{"t":0.9506,"a":-7.5,"b":3.75,"c":3.75},
{"t":0.9528,"a":-6.5,"b":0,"c":6.5},{"t":0.955,"a":-3.75,"b":-3.75,"c":7.5},{"t":0.9572,"a":0,"b":-6.5,"c":6.5},{"t":0.9594,"a":3.75,"b":-7.5,"c":3.75},{"t":0.9616,"a":6.5,"b":-6.5,"c":0},{"t":0.9638,"a":7.5,"b":-3.75,"c":-3.75},{"t":0.966,"a":6.5,"b":0,"c":-6.5},{"t":0.9682,"a":3.75,"b":3.75,"c":-7.5},{"t":0.9704,"a":0,"b":6.5,"c":-6.5},{"t":0.9726,"a":-3.75,"b":7.5,"c":-3.75},{"t":0.9748,"a":-6.5,"b":6.5,"c":0},{"t":0.977,"a":-7.5,"b":3.75,"c":3.75},
{"t":0.9792,"a":-6.5,"b":0,"c":6.5},{"t":0.9814,"a":-3.75,"b":-3.75,"c":7.5},{"t":0.9836,"a":0,"b":-6.5,"c":6.5},{"t":0.9858,"a":3.75,"b":-7.5,"c":3.75},{"t":0.988,"a":6.5,"b":-6.5,"c":0},{"t":0.9902,"a":7.5,"b":-3.75,"c":-3.75},{"t":0.9924,"a":6.5,"b":0,"c":-6.5},{"t":0.9946,"a":3.75,"b":3.75,"c":-7.5},{"t":0.9968,"a":0,"b":6.5,"c":-6.5},{"t":0.999,"a":-3.75,"b":7.5,"c":-3.75},{"t":1.0012,"a":-6.5,"b":6.5,"c":0},{"t":1.0034,"a":-7.5,"b":3.75,"c":3.75}
]},
"transform": [{"fold": ["c", "a", "b"], "as": ["ph", "i"]}],
"mark": {"type": "line", "strokeWidth": 1.4, "clip": true, "interpolate": "monotone"},
"encoding": {
"x": {"field": "t", "type": "quantitative", "scale": {"domain": [0.4, 1.0013], "nice": false, "zero": false}, "axis": {"title": null, "values": [0.4, 0.5, 0.6, 0.7, 0.8, 0.9, 1], "format": "~g", "labelFontSize": 8.5, "labelPadding": 8, "labelAlign": {"condition": {"test": "datum.value >= 0.99", "value": "right"}, "value": "center"}, "gridColor": {"condition": {"test": "abs(datum.value-0.9)<0.001", "value": "#999"}, "value": "#adadad"}, "gridWidth": {"condition": {"test": "abs(datum.value-0.9)<0.001", "value": 2}, "value": 1}}},
"y": {"field": "i", "type": "quantitative", "scale": {"domain": [-11.5, 13], "nice": false, "zero": false}, "axis": {"title": null, "values": [-10, 0, 10], "format": "d"}},
"color": {"field": "ph", "type": "nominal", "scale": {"domain": ["c", "a", "b"], "range": ["#e6891f", "#1010ff", "#ff1010"]}, "legend": null}
}
}
]
}
